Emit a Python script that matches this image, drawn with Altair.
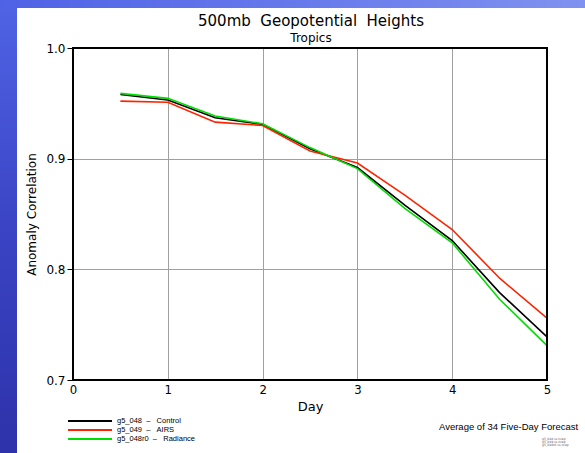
import altair as alt
import pandas as pd

# ---- data ----
days = [0.5, 1.0, 1.5, 2.0, 2.5, 3.0, 3.5, 4.0, 4.5, 5.0]
control = [0.958, 0.953, 0.937, 0.931, 0.909, 0.892, 0.858, 0.826, 0.779, 0.739]
airs = [0.952, 0.951, 0.933, 0.930, 0.907, 0.896, 0.867, 0.836, 0.792, 0.756]
radiance = [0.959, 0.9545, 0.9385, 0.9315, 0.910, 0.891, 0.855, 0.824, 0.773, 0.731]
series = ["g5_048\u00a0\u00a0\u2013\u00a0\u00a0\u00a0Control",
          "g5_049\u00a0\u00a0\u2013\u00a0\u00a0\u00a0AIRS",
          "g5_048r0\u00a0\u00a0\u2013\u00a0\u00a0\u00a0Radiance"]
colors = ["#000000", "#ff2400", "#00dd00"]
x_ticks = [0, 1, 2, 3, 4, 5]
y_ticks = [0.7, 0.8, 0.9, 1.0]
title_text = "500mb\u00a0\u00a0Geopotential\u00a0\u00a0Heights"
subtitle_text = "Tropics"
note_text = "Average\u00a0of\u00a034\u00a0Five-Day\u00a0Forecast"
tiny_lines = ["g5_048 vs ncep", "g5_049 vs ncep", "g5_048r0 vs ncep"]

W, H = 474, 332
PL, PT = 73, 48
PR = 585 - PL - W
PB = 453 - PT - H

rows = []
for name, vals in zip(series, [control, airs, radiance]):
    for d, v in zip(days, vals):
        rows.append({"day": d, "ac": v, "series": name})
df = pd.DataFrame(rows)

one = pd.DataFrame({"a": [0]})
FONT = "DejaVu Sans"
SMALL = "Liberation Sans"
NARROW = "Liberation Sans Narrow, DejaVu Sans Condensed, Liberation Sans"

grad_v = alt.Gradient(gradient="linear",
                      stops=[alt.GradientStop(color="#5064e6", offset=0),
                             alt.GradientStop(color="#3a44c4", offset=0.5),
                             alt.GradientStop(color="#2e32aa", offset=1)],
                      x1=0, x2=0, y1=0, y2=1)
grad_h = alt.Gradient(gradient="linear",
                      stops=[alt.GradientStop(color="#4f62e6", offset=0),
                             alt.GradientStop(color="#6b7eec", offset=0.6),
                             alt.GradientStop(color="#8092f0", offset=1)],
                      x1=0, x2=1, y1=0, y2=0)

left_strip = alt.Chart(one).mark_rect(fill=grad_v, strokeWidth=0).encode(
    x=alt.value(-PL), x2=alt.value(-PL + 17), y=alt.value(-PT), y2=alt.value(H + PB))
top_strip = alt.Chart(one).mark_rect(fill=grad_h, strokeWidth=0).encode(
    x=alt.value(-PL), x2=alt.value(W + PR), y=alt.value(-PT), y2=alt.value(-PT + 8))

lines = alt.Chart(df).mark_line(strokeWidth=1.6).encode(
    x=alt.X("day:Q", scale=alt.Scale(domain=[0, 5], nice=False),
            axis=alt.Axis(values=x_ticks, format="d", title="Day",
                          labelFont=NARROW, labelFontSize=13, labelColor="black",
                          labelPadding=3, labelFlush=False, tickSize=0, domain=False,
                          grid=True, gridColor="#a0a0a0", gridWidth=1,
                          titleFont=FONT, titleFontSize=13, titleFontWeight="normal",
                          titleColor="black", titlePadding=4)),
    y=alt.Y("ac:Q", scale=alt.Scale(domain=[0.7, 1.0], nice=False, zero=False),
            axis=alt.Axis(values=y_ticks, format=".1f", title="Anomaly Correlation",
                          labelFont=FONT, labelFontSize=12, labelColor="black",
                          labelPadding=2, labelFlush=False, tickSize=6, tickColor="black",
                          tickWidth=1, domain=False, grid=True, gridColor="#a0a0a0",
                          gridWidth=1, titleFont=FONT, titleFontSize=12,
                          titleFontWeight="normal", titleColor="black", titlePadding=7)),
    color=alt.Color("series:N", scale=alt.Scale(domain=series, range=colors), legend=None),
)

frame = alt.Chart(one).mark_rect(fill="white", fillOpacity=0, stroke="black", strokeWidth=2).encode(
    x=alt.value(0), x2=alt.value(W), y=alt.value(0), y2=alt.value(H))

title = alt.Chart(pd.DataFrame({"t": [title_text]})).mark_text(
    font=FONT, fontSize=15, color="black", align="center", baseline="alphabetic").encode(
    text="t:N", x=alt.value(238), y=alt.value(-22))
subtitle = alt.Chart(pd.DataFrame({"t": [subtitle_text]})).mark_text(
    font=FONT, fontSize=12, color="black", align="center", baseline="alphabetic").encode(
    text="t:N", x=alt.value(238), y=alt.value(-6))

layers = [left_strip, top_strip, lines, frame, title, subtitle]

for i, (name, col) in enumerate(zip(series, colors)):
    yy = H + 41 + 9 * i
    layers.append(alt.Chart(one).mark_rule(color=col, strokeWidth=2).encode(
        x=alt.value(-5), x2=alt.value(39), y=alt.value(yy)))
    layers.append(alt.Chart(pd.DataFrame({"t": [name]})).mark_text(
        font=SMALL, fontSize=7.5, color="black", align="left", baseline="middle").encode(
        text="t:N", x=alt.value(44), y=alt.value(yy)))

layers.append(alt.Chart(pd.DataFrame({"t": [note_text]})).mark_text(
    font=SMALL, fontSize=9.5, color="black", align="left", baseline="alphabetic").encode(
    text="t:N", x=alt.value(366), y=alt.value(H + 50)))

for i, t in enumerate(tiny_lines):
    layers.append(alt.Chart(pd.DataFrame({"t": [t]})).mark_text(
        font=FONT, fontSize=3, color="#555555", align="left", baseline="middle").encode(
        text="t:N", x=alt.value(469), y=alt.value(H + 59 + 3 * i)))

chart = alt.layer(*layers).properties(
    width=W, height=H,
    autosize=alt.AutoSizeParams(type="none"),
    padding={"left": PL, "top": PT, "right": PR, "bottom": PB},
    background="white",
).configure_view(stroke=None)

chart.save("out.html", embed_options={"renderer": "svg", "actions": False})
